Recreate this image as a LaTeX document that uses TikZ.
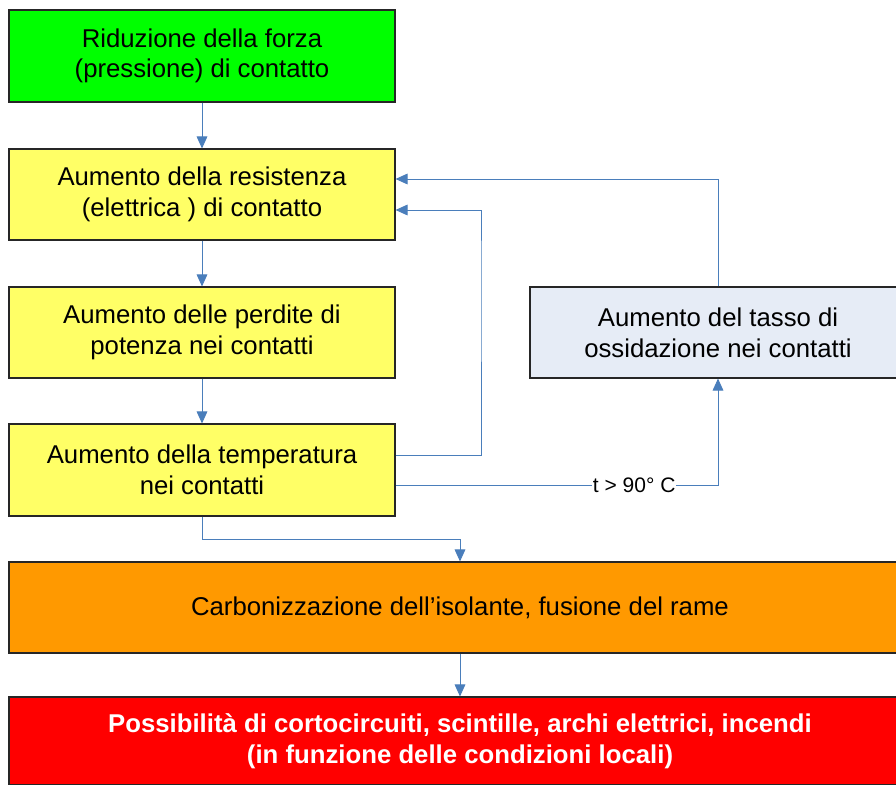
\documentclass[tikz,border=0pt]{standalone}
\usepackage{fontspec}
\setmainfont{Liberation Sans}
\usetikzlibrary{arrows.meta}
\definecolor{cgreen}{HTML}{00FF00}
\definecolor{cyellow}{HTML}{FFFF66}
\definecolor{cblue}{HTML}{E6ECF6}
\definecolor{corange}{HTML}{FF9900}
\definecolor{cred}{HTML}{FF0000}
\definecolor{cline}{HTML}{4A7EBB}
\begin{document}
\begin{tikzpicture}[x=0.75pt,y=-0.75pt,
  box/.style={draw=black!85, line width=0.8pt, rectangle, align=center, inner sep=0pt,
    font=\fontsize{19.3pt}{23pt}\selectfont},
  arr/.style={draw=cline, line width=0.75pt, -{Triangle[length=9pt,width=8pt]}},
  ln/.style={draw=cline, line width=0.75pt}]
\useasboundingbox (0,0) rectangle (896,785);
\fill[white] (0,0) rectangle (896,785);
\node[box, fill=cgreen, minimum width=289.5pt, minimum height=69pt] (g) at (202,56) {Riduzione della forza\\(pressione) di contatto};
\node[box, fill=cyellow, minimum width=289.5pt, minimum height=68.25pt] (y1) at (202,194.5) {Aumento della resistenza\\(elettrica ) di contatto};
\node[box, fill=cyellow, minimum width=289.5pt, minimum height=68.25pt] (y2) at (202,332.5) {Aumento delle perdite di\\potenza nei contatti};
\node[box, fill=cyellow, minimum width=289.5pt, minimum height=69pt] (y3) at (202,470) {Aumento della temperatura\\nei contatti};
\node[box, fill=cblue, minimum width=282pt, minimum height=68.25pt] (b) at (718,332.5) {Aumento del tasso di\\ossidazione nei contatti};
\node[box, fill=corange, minimum width=676.5pt, minimum height=68.25pt] (o) at (460,607.5) {Carbonizzazione dell’isolante, fusione del rame};
\node[box, fill=cred, text=white, font=\bfseries\fontsize{19.3pt}{23pt}\selectfont, minimum width=676.5pt, minimum height=66pt] (r) at (460,741) {Possibilità di cortocircuiti, scintille, archi elettrici, incendi\\(in funzione delle condizioni locali)};
\coordinate (cin) at (481,0);
\coordinate (cout) at (718,0);
\coordinate (cdown) at (0,539);
\draw[arr] (g.south) -- (y1.north);
\draw[arr] (y1.south) -- (y2.north);
\draw[arr] (y2.south) -- (y3.north);
\draw[arr] (y3.east |- 0,455) -| (cin |- 0,270) -- (cin |- 0,210) -- (y1.east |- 0,210);
\draw[arr] (y3.east |- 0,485) -- (cout |- 0,485) node[pos=0.74, fill=white, inner sep=0.5pt, font=\fontsize{15.75pt}{18pt}\selectfont] {t > 90° C} -- (b.south);
\draw[arr] (b.north) |- (y1.east |- 0,179);
\draw[arr] (y3.south) |- (o.north |- cdown) -- (o.north);
\draw[arr] (o.south) -- (r.north);
\end{tikzpicture}
\end{document}
